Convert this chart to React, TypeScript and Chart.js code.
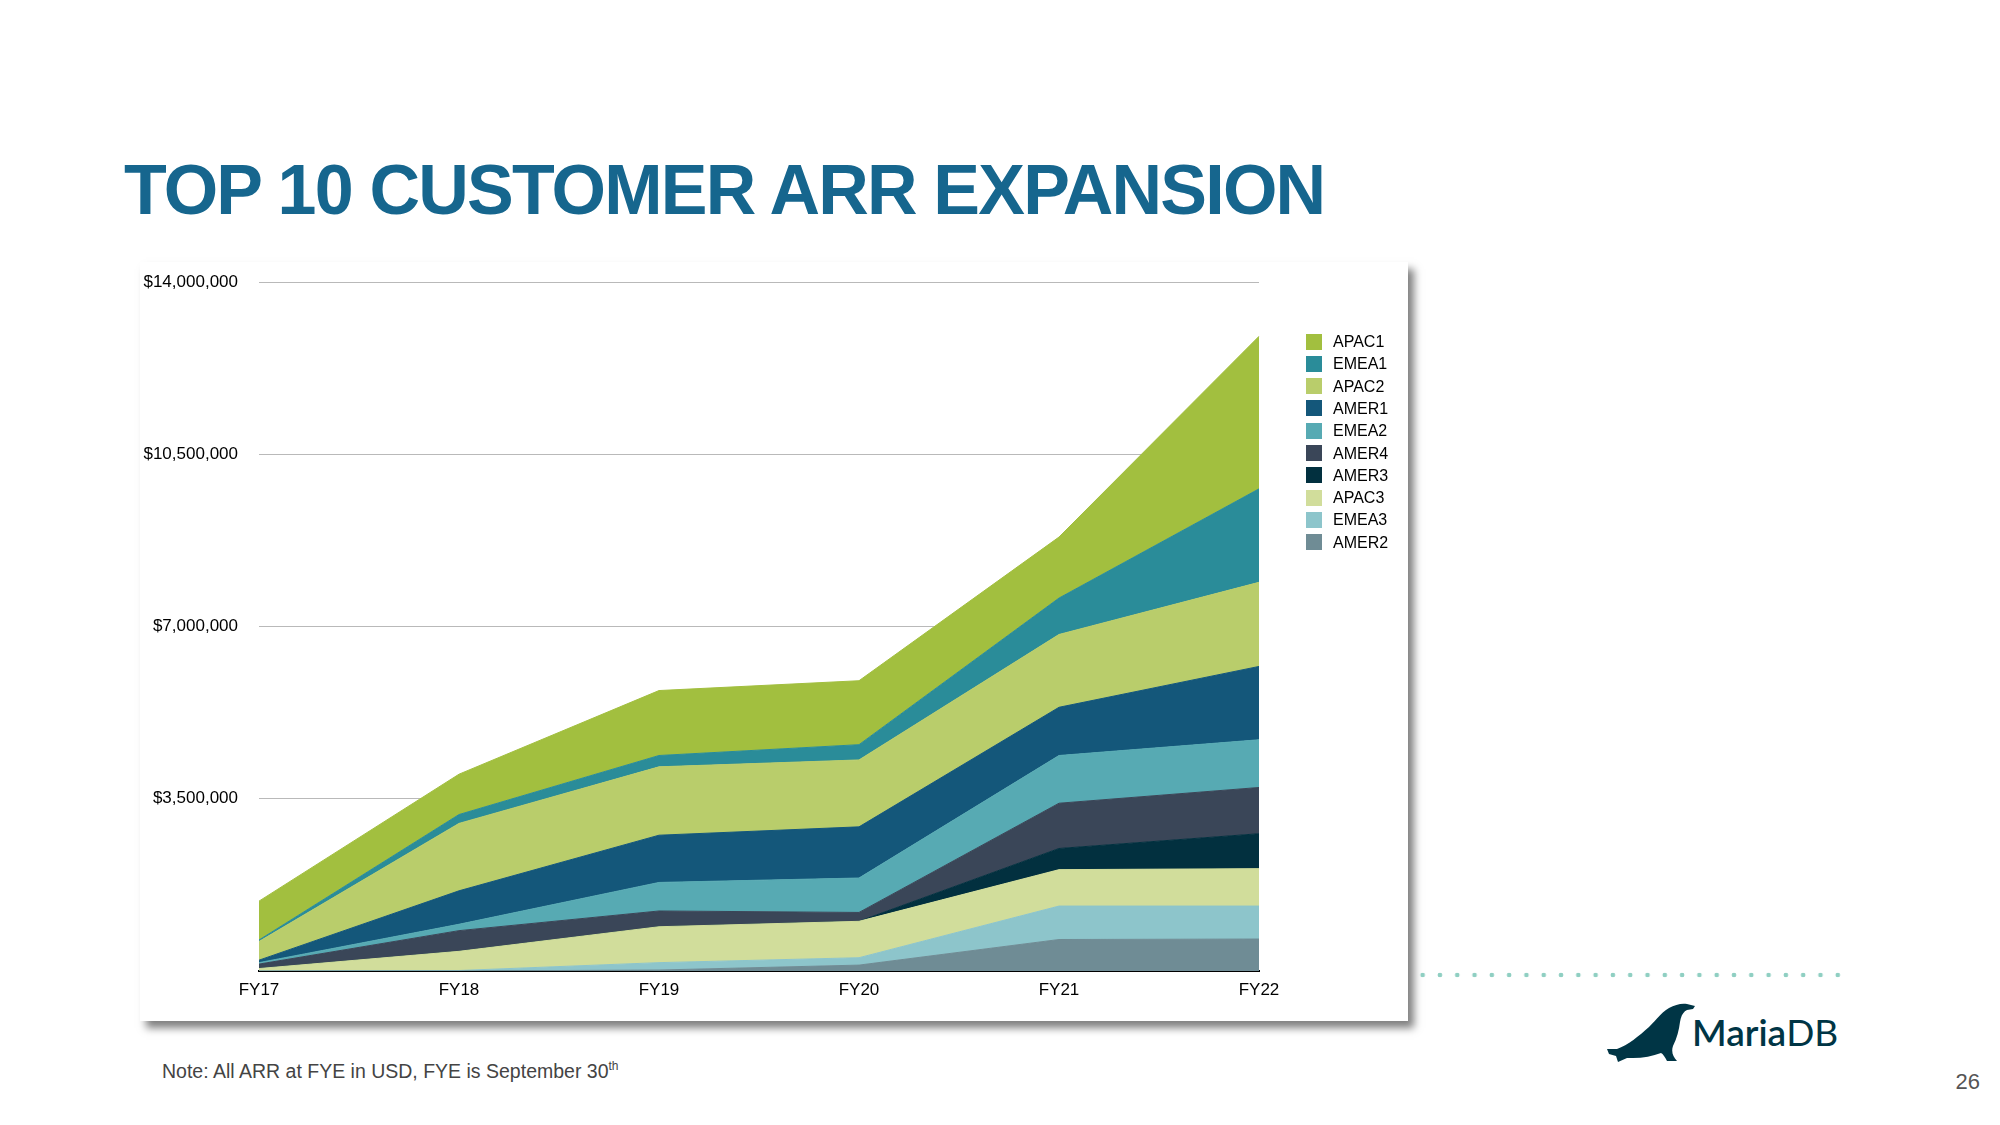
import React, { useEffect, useRef } from 'react';
import { Chart, registerables } from 'chart.js';

Chart.register(...registerables);

// ---- Data (values in USD) ----
const categories = ['FY17', 'FY18', 'FY19', 'FY20', 'FY21', 'FY22'];

// Stack order: bottom -> top
const AMER2 = [0, 0, 20000, 120000, 640000, 650000];
const EMEA3 = [0, 10000, 150000, 150000, 680000, 670000];
const APAC3 = [50000, 390000, 730000, 740000, 740000, 760000];
const AMER3 = [0, 0, 0, 0, 430000, 710000];
const AMER4 = [90000, 420000, 320000, 180000, 920000, 940000];
const EMEA2 = [30000, 130000, 580000, 700000, 970000, 970000];
const AMER1 = [50000, 680000, 960000, 1040000, 980000, 1490000];
const APAC2 = [380000, 1370000, 1390000, 1360000, 1480000, 1710000];
const EMEA1 = [30000, 180000, 230000, 310000, 740000, 1900000];
const APAC1 = [790000, 820000, 1320000, 1300000, 1240000, 3100000];

const seriesNames = ['AMER2', 'EMEA3', 'APAC3', 'AMER3', 'AMER4', 'EMEA2', 'AMER1', 'APAC2', 'EMEA1', 'APAC1'];
const seriesColors = ['#6f8c95', '#8dc5cb', '#d1dd9b', '#02303f', '#3a4658', '#57aab3', '#14577a', '#b9cd6b', '#2a8c99', '#a2bf3f'];

const yTicks = [0, 3500000, 7000000, 10500000, 14000000];

const FONT = "'Liberation Sans', Arial, Helvetica, sans-serif";

function SeaLion() {
  return (
    <svg width="92" height="60" viewBox="0 0 92 60" style={{ position: 'absolute', left: 1606, top: 1003 }}>
      <path
        d="M1 46 L11 46 C22 42 33 33 43 24 C51 16 56 9 63 5 C69 2 75 0 81 1 L89 3 L87 6 L81 7 C77 9 75 13 74 19 C73 27 71 35 67 43 C65 49 67 54 71 58 L61 58 C59 54 57 51 55 50 C47 53 37 55 27 55 L21 55 L12 59 L10 53 L3 51 Z"
        fill="#003545"
      />
    </svg>
  );
}

export default function App() {
  const ref = useRef<HTMLCanvasElement>(null);

  useEffect(() => {
    const seriesValues = [AMER2, EMEA3, APAC3, AMER3, AMER4, EMEA2, AMER1, APAC2, EMEA1, APAC1];
    const chart = new Chart(ref.current as HTMLCanvasElement, {
      type: 'line',
      data: {
        labels: categories,
        datasets: seriesNames.map((name, i) => ({
          label: name,
          data: seriesValues[i],
          backgroundColor: seriesColors[i],
          borderColor: seriesColors[i],
          borderWidth: 1,
          pointRadius: 0,
          pointHoverRadius: 0,
          tension: 0,
          fill: i === 0 ? 'origin' : '-1',
        })),
      },
      options: {
        animation: false,
        responsive: false,
        maintainAspectRatio: false,
        layout: { padding: { top: 8, right: 149, left: 0, bottom: 0 } },
        plugins: {
          legend: { display: false },
          tooltip: { enabled: false },
        },
        scales: {
          x: {
            offset: false,
            grid: { display: false, drawTicks: false },
            border: { display: true, color: '#000', width: 2 },
            ticks: {
              color: '#000',
              font: { family: FONT, size: 17 },
              padding: 9,
              maxRotation: 0,
              autoSkip: false,
            },
            afterFit: (s: any) => {
              s.height = 50;
            },
          },
          y: {
            stacked: true,
            min: 0,
            max: 14000000,
            afterBuildTicks: (s: any) => {
              s.ticks = yTicks.map((v) => ({ value: v }));
            },
            grid: { color: '#b9b9b9', lineWidth: 1, drawTicks: false },
            border: { display: false },
            ticks: {
              color: '#000',
              font: { family: FONT, size: 17 },
              padding: 21,
              callback: (v: any) => (Number(v) === 0 ? '' : '$' + Number(v).toLocaleString('en-US')),
            },
            afterFit: (s: any) => {
              s.width = 119;
            },
          },
        },
      },
    });
    return () => chart.destroy();
  }, []);

  const legendItems = seriesNames.map((n, i) => ({ name: n, color: seriesColors[i] })).reverse();

  return (
    <div style={{ position: 'absolute', left: 0, top: 0, width: 2000, height: 1125, background: '#fff', overflow: 'hidden', fontFamily: FONT }}>
      <div
        style={{
          position: 'absolute',
          left: 124,
          top: 155,
          fontSize: 70,
          lineHeight: '70px',
          fontWeight: 700,
          letterSpacing: '-1.8px',
          color: '#16668e',
          whiteSpace: 'nowrap',
        }}
      >
        TOP 10 CUSTOMER ARR EXPANSION
      </div>

      <div
        style={{
          position: 'absolute',
          left: 140,
          top: 262,
          width: 1268,
          height: 759,
          background: '#fff',
          boxShadow: '6px 7px 8px rgba(0,0,0,0.5)',
        }}
      >
        <canvas
          ref={ref}
          width={1268}
          height={770}
          style={{ position: 'absolute', left: 0, top: -11, display: 'block', width: 1268, height: 770 }}
        />
        {legendItems.map((it, k) => (
          <div
            key={it.name}
            style={{
              position: 'absolute',
              left: 1306 - 140,
              top: 333 - 262 + k * 22.3,
              height: 17,
              display: 'flex',
              alignItems: 'center',
              whiteSpace: 'nowrap',
            }}
          >
            <div style={{ width: 16, height: 16, background: it.color, marginRight: 11 }} />
            <span style={{ fontSize: 16, color: '#000', lineHeight: '17px' }}>{it.name}</span>
          </div>
        ))}
      </div>

      <div
        style={{
          position: 'absolute',
          left: 1414,
          top: 972,
          width: 428,
          height: 6,
          backgroundImage: 'radial-gradient(circle, #8fcfc2 2px, rgba(255,255,255,0) 2.6px)',
          backgroundSize: '17.3px 6px',
        }}
      />

      <SeaLion />
      <div
        style={{
          position: 'absolute',
          left: 1692,
          top: 1012,
          fontFamily: 'Lato, sans-serif',
          fontSize: 37,
          lineHeight: '40px',
          color: '#003545',
          whiteSpace: 'nowrap',
        }}
      >
        <span style={{ fontWeight: 600 }}>Maria</span>
        <span style={{ fontWeight: 400 }}>DB</span>
      </div>

      <div
        style={{
          position: 'absolute',
          left: 162,
          top: 1055,
          fontSize: 19.5,
          lineHeight: '22px',
          color: '#444',
          whiteSpace: 'nowrap',
        }}
      >
        Note: All ARR at FYE in USD, FYE is September 30<sup style={{ fontSize: 12 }}>th</sup>
      </div>

      <div
        style={{
          position: 'absolute',
          right: 20,
          top: 1070,
          fontSize: 22,
          lineHeight: '24px',
          color: '#555',
        }}
      >
        26
      </div>
    </div>
  );
}
